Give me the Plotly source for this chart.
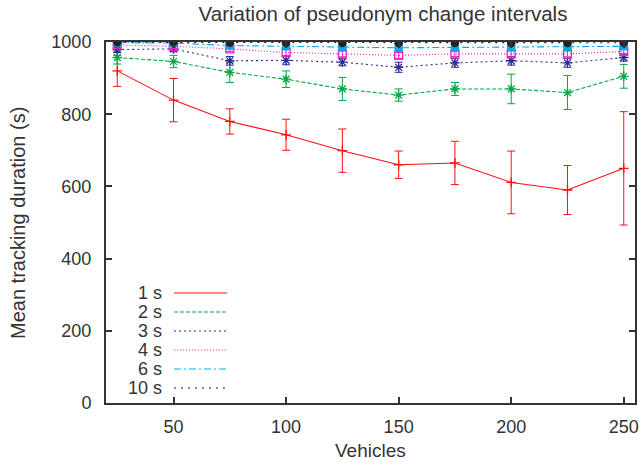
import plotly.graph_objects as go

vehicles = [25, 50, 75, 100, 125, 150, 175, 200, 225, 250]

labels = ["1 s", "2 s", "3 s", "4 s", "6 s", "10 s"]

mean_1s = [920, 839, 780, 743, 699, 660, 665, 611, 590, 650]
err_1s = [43, 60, 35, 43, 60, 38, 60, 87, 68, 157]

mean_2s = [957, 946, 916, 897, 870, 853, 870, 870, 860, 905]
err_2s = [18, 17, 28, 23, 32, 17, 18, 41, 47, 33]

mean_3s = [979, 981, 948, 949, 944, 930, 942, 948, 942, 957]
err_3s = [8, 8, 12, 12, 10, 14, 12, 12, 12, 10]

mean_4s = [992, 988, 981, 971, 967, 963, 967, 967, 967, 974]
err_4s = [5, 6, 7, 9, 8, 8, 7, 8, 8, 7]

mean_6s = [998, 997, 990, 988, 985, 984, 985, 986, 986, 988]
err_6s = [2, 3, 4, 5, 5, 5, 5, 5, 5, 5]

mean_10s = [999, 999, 998, 998, 997, 997, 997, 997, 997, 998]
err_10s = [1, 1, 2, 2, 2, 2, 2, 2, 2, 2]

means = [mean_1s, mean_2s, mean_3s, mean_4s, mean_6s, mean_10s]
errs = [err_1s, err_2s, err_3s, err_4s, err_6s, err_10s]

colors = ["#ff1010", "#00a844", "#2b2b95", "#f020c8", "#08a8e8", "#222222"]
dashes = ["solid", "4px,2px", "2px,3px", "1px,2px", "7px,3px,2px,3px", "2px,5px"]
symbols = ["cross-thin-open", "asterisk-open", "asterisk-open", "square-open", "square", "circle"]
msizes = [7, 8, 8, 8, 7, 7]

FONT = "Liberation Sans, Arial, sans-serif"
TXT = "#333333"

fig = go.Figure()
for lab, m, e, c, d, s, ms in zip(labels, means, errs, colors, dashes, symbols, msizes):
    fig.add_trace(go.Scatter(
        x=vehicles, y=m, name=lab, mode="lines+markers",
        line=dict(color=c, width=1.1, dash=d),
        marker=dict(symbol=s, size=ms, color=c, line=dict(color=c, width=1.3)),
        error_y=dict(type="data", array=e, visible=True, color=c, thickness=1.0, width=4),
        showlegend=False, hoverinfo="skip",
    ))

# Custom key (gnuplot style: label left, sample right)
L, R, T, B = 106, 635, 42, 403
W, H = R - L, B - T
key_rows = [293, 312, 331, 350, 369, 388]
for lab, c, d, py in zip(labels, colors, dashes, key_rows):
    yp = (B - py) / H
    fig.add_annotation(x=(164 - L) / W, y=yp, xref="paper", yref="paper",
                       text=lab, showarrow=False, xanchor="right", yanchor="middle",
                       font=dict(size=18, color=TXT, family=FONT))
    fig.add_shape(type="line", xref="paper", yref="paper",
                  x0=(174 - L) / W, x1=(227 - L) / W, y0=yp, y1=yp,
                  line=dict(color=c, width=1.2, dash=d))

# Axis titles as annotations for precise placement
fig.add_annotation(x=(370 - L) / W, y=(B - 450) / H, xref="paper", yref="paper",
                   text="Vehicles", showarrow=False, xanchor="center", yanchor="middle",
                   font=dict(size=19, color=TXT, family=FONT))
fig.add_annotation(x=(18 - L) / W, y=(B - 223) / H, xref="paper", yref="paper",
                   text="Mean tracking duration (s)", showarrow=False, textangle=-90,
                   xanchor="center", yanchor="middle",
                   font=dict(size=20, color=TXT, family=FONT))

fig.update_layout(
    width=642, height=466,
    hovermode=False,
    margin=dict(l=L, r=642 - R, t=T, b=466 - B, autoexpand=False),
    paper_bgcolor="white", plot_bgcolor="white",
    font=dict(family=FONT, size=18, color=TXT),
    title=dict(text="Variation of pseudonym change intervals", x=383 / 642, xanchor="center",
               y=1 - 14 / 466, yanchor="middle", automargin=False,
               font=dict(size=20.5, color=TXT, family=FONT)),
    xaxis=dict(range=[20, 255], tickvals=[50, 100, 150, 200, 250], ticks="inside", ticklen=6,
               tickwidth=1.5, tickcolor=TXT, showline=True, linecolor=TXT, linewidth=2,
               mirror="ticks", showgrid=False, zeroline=False, ticklabelstandoff=6,
               automargin=False, tickfont=dict(size=18)),
    yaxis=dict(range=[0, 1000], tickvals=[0, 200, 400, 600, 800, 1000], ticks="inside", ticklen=6,
               tickwidth=1.5, tickcolor=TXT, showline=True, linecolor=TXT, linewidth=2,
               mirror="ticks", showgrid=False, zeroline=False, ticklabelstandoff=9,
               automargin=False, tickfont=dict(size=18)),
)

fig.write_html("out.html", config={"displayModeBar": False},
               post_script="document.body.style.margin='0px';document.body.style.overflow='hidden';")
